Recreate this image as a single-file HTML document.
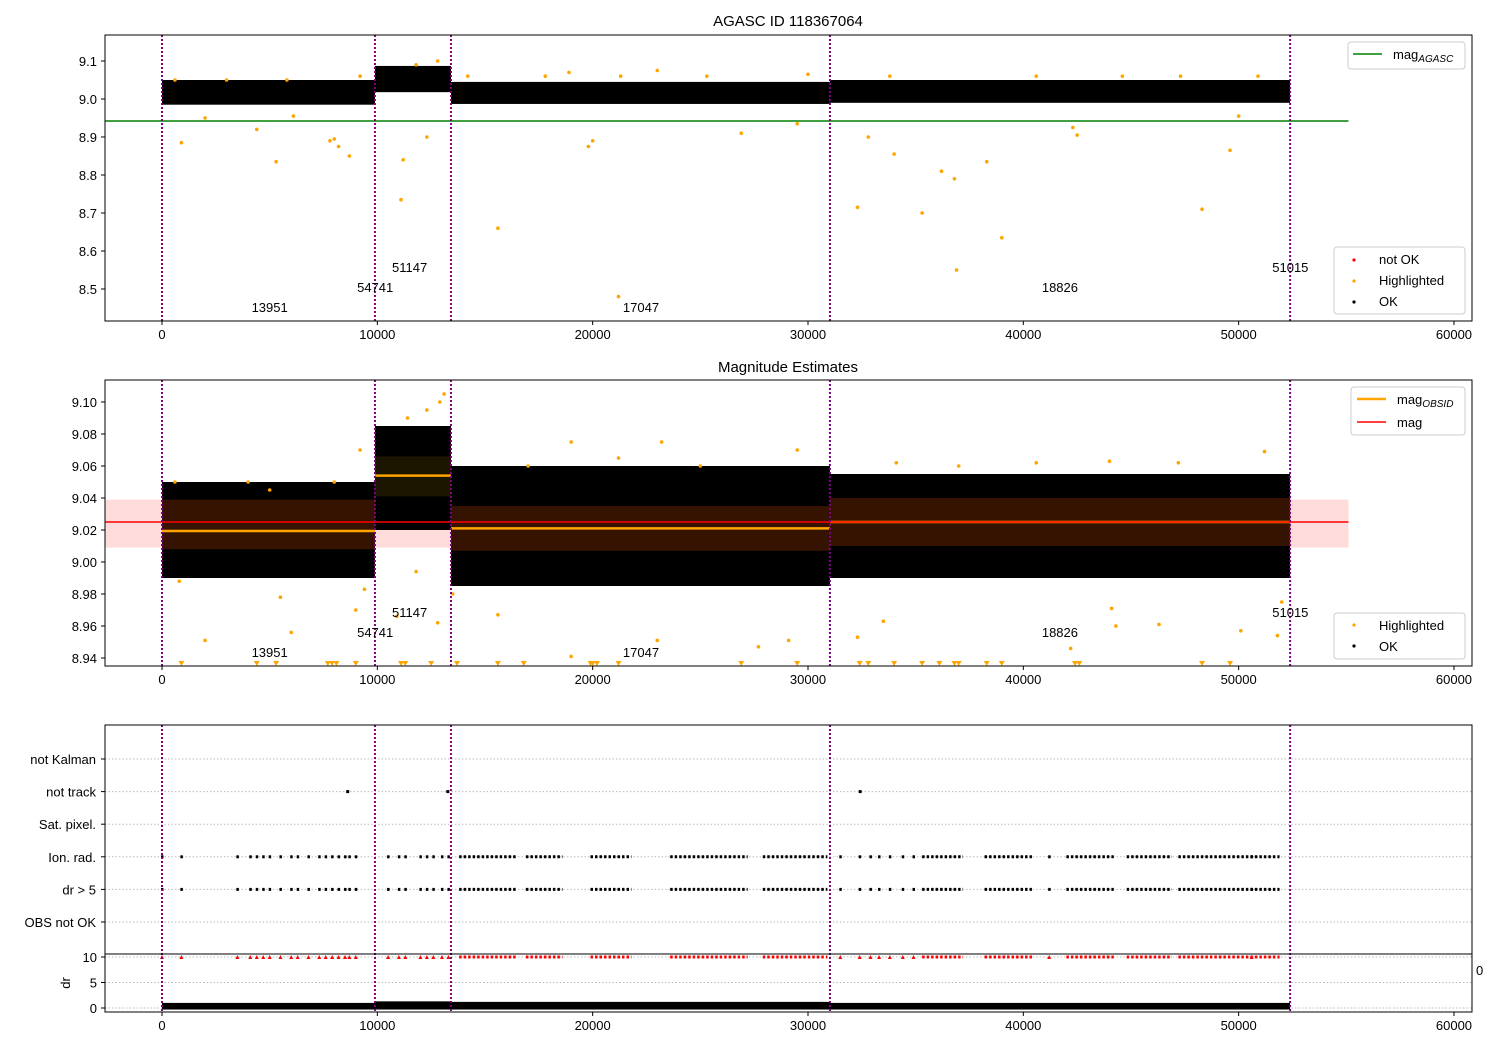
<!DOCTYPE html>
<html><head><meta charset="utf-8"><style>
body{margin:0;background:#fff}
svg{display:block;font-family:"Liberation Sans","DejaVu Sans",sans-serif}
</style></head><body>
<svg id="c" width="1500" height="1050" xmlns="http://www.w3.org/2000/svg"></svg>
<script>
// ---- data ----
const obsBounds = [0, 9890, 13420, 31020, 52390];
const obsIds = ["13951","54741","51147","17047","18826","51015"];
const obsLabelTimes = [5000, 9900, 11500, 22245, 41700, 52400];
const obsLabelLevels = [0, 1, 2, 0, 1, 2];
// top panel: per-obsid scatter extent
const topLow = [8.985, 9.018, 8.987, 8.99, 8.99];
const topHigh = [9.05, 9.087, 9.045, 9.05, 9.058];
const magAgasc = 8.942;
// magnitude estimates per obsid
const obsMean = [9.0194, 9.054, 9.021, 9.025];
const obsStdLo = [9.008, 9.041, 9.007, 9.01];
const obsStdHi = [9.039, 9.066, 9.035, 9.04];
const scatLo = [8.99, 9.02, 8.985, 8.99];
const scatHi = [9.05, 9.085, 9.06, 9.055];
const magMean = 9.025, magLo = 9.009, magHi = 9.039;
const outTopT = [900,2000,4400,5300,6100,7800,8000,8200,8700,11200,11100,12300,15600,19800,20000,21200,26900,29500,32300,32800,34000,35300,36200,36800,36900,38300,39000,42300,42500,48300,49600,50000,600,3000,5800,9200,11800,12800,14200,17800,18900,21300,23000,25300,30000,33800,40600,44600,47300,50900];
const outTopM = [8.885,8.95,8.92,8.835,8.955,8.89,8.895,8.875,8.85,8.84,8.735,8.9,8.66,8.875,8.89,8.48,8.91,8.935,8.715,8.9,8.855,8.7,8.81,8.79,8.55,8.835,8.635,8.925,8.905,8.71,8.865,8.955,9.05,9.05,9.05,9.06,9.09,9.1,9.06,9.06,9.07,9.06,9.075,9.06,9.065,9.06,9.06,9.06,9.06,9.06];
const outMidT = [600,4000,8000,9200,11400,12300,12900,13100,19000,21200,23200,29500,34100,40600,47200,51200,5000,17000,25000,37000,44000,800,2000,5500,6000,9000,9400,10900,11800,12800,13500,15600,19000,23000,27700,29100,32300,33500,42200,44300,44100,46300,50100,51800,52000];
const outMidM = [9.05,9.05,9.05,9.07,9.09,9.095,9.1,9.105,9.075,9.065,9.075,9.07,9.062,9.062,9.062,9.069,9.045,9.06,9.06,9.06,9.063,8.988,8.951,8.978,8.956,8.97,8.983,8.966,8.994,8.962,8.98,8.967,8.941,8.951,8.947,8.951,8.953,8.963,8.946,8.96,8.971,8.961,8.957,8.954,8.975];
const lowTriT = [900,4400,5300,7700,7900,8100,9000,11100,11300,12500,13700,15600,16800,19900,20000,20200,21200,26900,29500,32400,32800,34000,35300,36100,36800,37000,38300,39000,42400,42600,48300,49600];
const flagT = [0,900,3500,4100,4400,4700,5000,5500,6000,6300,6800,7300,7600,7900,8200,8500,8700,9000,10500,11000,11300,12000,12300,12600,13000,13300,31500,32400,32900,33300,33800,34400,34900,41200,50600];
const flagRangeStart = [13800,16900,19900,23600,27900,35300,38200,42000,44800,47200];
const flagRangeEnd = [16500,18600,21800,27200,30900,37200,40400,44200,46900,51900];
const notTrackT = [8600, 13250, 32400];
const flagCats = ["not Kalman","not track","Sat. pixel.","Ion. rad.","dr > 5","OBS not OK"];
const drOk = [1.0, 1.3, 1.2, 1.0];
const xTicks = [0,10000,20000,30000,40000,50000,60000];
const topTicks = [9.1,9.0,8.9,8.8,8.7,8.6,8.5];
const midTicks = [9.10,9.08,9.06,9.04,9.02,9.00,8.98,8.96,8.94];
const drTicks = [10,5,0];

// ---- helpers ----
const svg = document.getElementById('c');
const NS = 'http://www.w3.org/2000/svg';
function el(tag, attrs, parent){const e=document.createElementNS(NS,tag);for(const k in attrs)e.setAttribute(k,attrs[k]);(parent||svg).appendChild(e);return e;}
function txt(s,x,y,attrs,parent){const t=el('text',Object.assign({x:x,y:y,'font-size':13,fill:'#000'},attrs||{}),parent);t.textContent=s;return t;}
const X = t => 162 + t*0.021533;
const LX = 105, RX = 1472;
const Y1 = v => 99 - (v-9.0)*380;
const Y2 = v => 562 - (v-9.0)*1600;
const Ycat = i => 759 + i*32.6;
const Ydr = v => 1008 - v*5.1;

function xAxis(yb, g){
  xTicks.forEach(t=>{
    el('line',{x1:X(t),x2:X(t),y1:yb,y2:yb+4,stroke:'#000'},g);
    const l=txt(String(t),X(t),yb+18,{'text-anchor':'middle'},g);
    
    
  });
}
function frame(y0,y1,g){el('rect',{x:LX,y:y0,width:RX-LX,height:y1-y0,fill:'none',stroke:'#000','stroke-width':1},g);}
function vlines(y0,y1,g){obsBounds.forEach(t=>{const l=el('line',{x1:X(t),x2:X(t),y1:y0,y2:y1,stroke:'#800080','stroke-width':2,'stroke-dasharray':'2,2'},g);});}
function labels(ybase,g){obsIds.forEach((s,i)=>{const l=txt(s,X(obsLabelTimes[i]),ybase-obsLabelLevels[i]*20,{'text-anchor':'middle'},g);});}

// ---- panel 1 ----
const g1=el('g',{});  
txt('AGASC ID 118367064',788,26,{'text-anchor':'middle','font-size':15},g1);
for(let i=0;i<topLow.length;i++){
  const r=el('rect',{x:X(obsBounds[i]),y:Y1(topHigh[i]),width:X(obsBounds[i+1]||obsBounds[i])-X(obsBounds[i]),height:Y1(topLow[i])-Y1(topHigh[i]),fill:'#000'},g1);
   
}
outTopT.forEach((t,i)=>{const c=el('circle',{cx:X(t),cy:Y1(outTopM[i]),r:1.8,fill:'#ffa500'},g1);});
el('line',{x1:LX,x2:X(55100),y1:Y1(magAgasc),y2:Y1(magAgasc),stroke:'#008000','stroke-width':1.5},g1);
vlines(35,321,g1); labels(312,g1); frame(35,321,g1); xAxis(321,g1);
topTicks.forEach(v=>{el('line',{x1:LX-4,x2:LX,y1:Y1(v),y2:Y1(v),stroke:'#000'},g1);txt(v.toFixed(1),LX-8,Y1(v)+5,{'text-anchor':'end'},g1);});
// legends
const lg1=el('g',{},g1);  
el('rect',{x:1348,y:42,width:117,height:27,rx:3,fill:'#fff',stroke:'#ccc'},lg1);
el('line',{x1:1353,x2:1382,y1:54,y2:54,stroke:'#008000','stroke-width':1.5},lg1);
const tA=txt('mag',1393,59,{},lg1); const sA=el('tspan',{'font-size':10,'font-style':'italic',dy:3},tA); sA.textContent='AGASC';
const lg2=el('g',{},g1);  
el('rect',{x:1334,y:247,width:131,height:67,rx:3,fill:'#fff',stroke:'#ccc'},lg2);
[['not OK','#f00'],['Highlighted','#ffa500'],['OK','#000']].forEach((e,i)=>{el('circle',{cx:1354,cy:260+i*21,r:1.6,fill:e[1]},lg2);txt(e[0],1379,264+i*21,{},lg2);});

// ---- panel 2 ----
const g2=el('g',{});  
txt('Magnitude Estimates',788,372,{'text-anchor':'middle','font-size':15},g2);
el('rect',{x:LX,y:Y2(magHi),width:X(55100)-LX,height:Y2(magLo)-Y2(magHi),fill:'#ffdcdc'},g2);
for(let i=0;i<obsMean.length;i++){
  const x0=X(obsBounds[i]),w=X(obsBounds[i+1])-x0;
  el('rect',{x:x0,y:Y2(scatHi[i]),width:w,height:Y2(scatLo[i])-Y2(scatHi[i]),fill:'#000'},g2);
  el('rect',{x:x0,y:Y2(obsStdHi[i]),width:w,height:Y2(obsStdLo[i])-Y2(obsStdHi[i]),fill:i===1?'#1c1500':'#361300'},g2);
  el('line',{x1:x0,x2:x0+w,y1:Y2(obsMean[i]),y2:Y2(obsMean[i]),stroke:'#ffa500','stroke-width':2.5},g2);
}
el('line',{x1:LX,x2:X(55100),y1:Y2(magMean),y2:Y2(magMean),stroke:'#f00','stroke-width':1.5},g2);
outMidT.forEach((t,i)=>{const c=el('circle',{cx:X(t),cy:Y2(outMidM[i]),r:1.8,fill:'#ffa500'},g2);});
lowTriT.forEach(t=>{const x=X(t);const p=el('polygon',{points:`${x-3},661 ${x+3},661 ${x},666`,fill:'#ffa500'},g2);});
vlines(380,666,g2); labels(657,g2); frame(380,666,g2); xAxis(666,g2);
midTicks.forEach(v=>{el('line',{x1:LX-4,x2:LX,y1:Y2(v),y2:Y2(v),stroke:'#000'},g2);txt(v.toFixed(2),LX-8,Y2(v)+5,{'text-anchor':'end'},g2);});
const lg3=el('g',{},g2);  
el('rect',{x:1351,y:387,width:114,height:48,rx:3,fill:'#fff',stroke:'#ccc'},lg3);
el('line',{x1:1357,x2:1386,y1:399,y2:399,stroke:'#ffa500','stroke-width':2.5},lg3);
const tB=txt('mag',1397,404,{},lg3); const sB=el('tspan',{'font-size':10,'font-style':'italic',dy:3},tB); sB.textContent='OBSID';
el('line',{x1:1357,x2:1386,y1:422,y2:422,stroke:'#f00','stroke-width':1.5},lg3);
txt('mag',1397,427,{},lg3);
const lg4=el('g',{},g2);  
el('rect',{x:1334,y:613,width:131,height:46,rx:3,fill:'#fff',stroke:'#ccc'},lg4);
[['Highlighted','#ffa500'],['OK','#000']].forEach((e,i)=>{el('circle',{cx:1354,cy:625+i*21,r:1.6,fill:e[1]},lg4);txt(e[0],1379,630+i*21,{},lg4);});

// ---- panel 3 (flags) ----
const g3=el('g',{});  
flagCats.forEach((c,i)=>{
  el('line',{x1:LX,x2:RX,y1:Ycat(i),y2:Ycat(i),stroke:'#bbb','stroke-dasharray':'1.5,2'},g3);
  el('line',{x1:LX-4,x2:LX,y1:Ycat(i),y2:Ycat(i),stroke:'#000'},g3);
  txt(c,LX-9,Ycat(i)+5,{'text-anchor':'end'},g3);
});
[3,4].forEach(row=>{
  flagT.forEach(t=>{el('rect',{x:X(t)-1,y:Ycat(row)-1.5,width:2.5,height:3,fill:'#000'},g3);});
  flagRangeStart.forEach((s,i)=>{el('line',{x1:X(s),x2:X(flagRangeEnd[i]),y1:Ycat(row),y2:Ycat(row),stroke:'#000','stroke-width':3,'stroke-dasharray':'2.5,2'},g3);});
});
notTrackT.forEach(t=>{el('rect',{x:X(t)-1,y:Ycat(1)-1.5,width:3,height:3,fill:'#000'},g3);});
// dr sub-panel
drTicks.forEach(v=>{
  el('line',{x1:LX,x2:RX,y1:Ydr(v),y2:Ydr(v),stroke:'#bbb','stroke-dasharray':'1.5,2'},g3);
  el('line',{x1:LX-4,x2:LX,y1:Ydr(v),y2:Ydr(v),stroke:'#000'},g3);
  txt(String(v),LX-8,Ydr(v)+5,{'text-anchor':'end'},g3);
});
for(let i=0;i<drOk.length;i++){
  el('rect',{x:X(obsBounds[i]),y:Ydr(drOk[i]),width:X(obsBounds[i+1])-X(obsBounds[i]),height:Ydr(-0.3)-Ydr(drOk[i]),fill:'#000'},g3);
}
flagT.forEach(t=>{el('polygon',{points:`${X(t)-2},${Ydr(10)+2} ${X(t)+2},${Ydr(10)+2} ${X(t)},${Ydr(10)-2}`,fill:'#f00'},g3);});
flagRangeStart.forEach((s,i)=>{el('line',{x1:X(s),x2:X(flagRangeEnd[i]),y1:Ydr(10),y2:Ydr(10),stroke:'#f00','stroke-width':3,'stroke-dasharray':'2.5,2'},g3);});
vlines(725,1012,g3);
frame(725,1012,g3);
el('line',{x1:LX,x2:RX,y1:954,y2:954,stroke:'#000'},g3);
const yl=txt('dr',0,0,{'text-anchor':'middle',transform:'translate(70,983) rotate(-90)'},g3); 
txt('0',1476,975,{},g3);
xAxis(1012,g3);
</script>
</body></html>
